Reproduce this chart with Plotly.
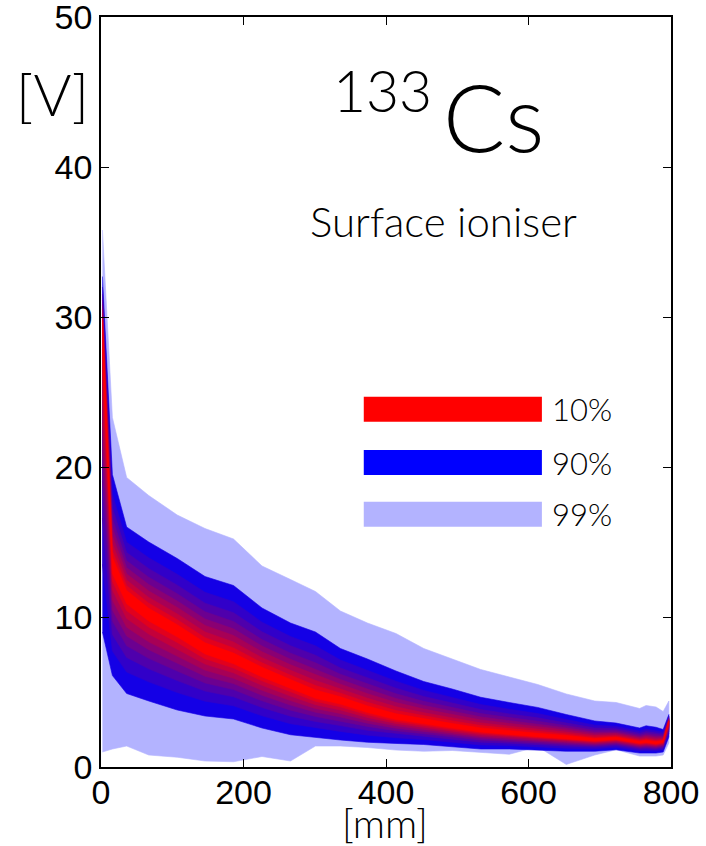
import plotly.graph_objects as go

# ---- data ----
x_mm = [2, 16, 36, 67, 107, 146, 186, 226, 266, 301, 336, 374, 414, 453, 493,
        533, 573, 613, 653, 693, 723, 756, 765, 779, 789, 797]
upper_99 = [35.8, 23.3, 19.3, 18.1, 16.8, 15.9, 15.2, 13.4, 12.5, 11.7, 10.4, 9.6, 8.9,
            7.9, 7.2, 6.5, 6.0, 5.5, 4.87, 4.4, 4.3, 3.9, 4.1, 4.0, 3.7, 4.4]
upper_90 = [32.7, 19.5, 16.0, 15.0, 13.9, 12.7, 12.1, 10.6, 9.6, 9.0, 7.9, 7.2, 6.4,
            5.7, 5.2, 4.65, 4.3, 3.97, 3.5, 3.07, 2.93, 2.6, 2.75, 2.65, 2.5, 3.5]
median = [29.5, 13.5, 11.4, 10.2, 9.1, 7.9, 7.2, 6.3, 5.5, 4.8, 4.4, 3.8, 3.3,
          3.0, 2.7, 2.43, 2.25, 2.1, 1.98, 1.8, 1.9, 1.64, 1.7, 1.6, 1.7, 3.0]
lower_90 = [9.0, 6.1, 4.9, 4.4, 3.8, 3.4, 3.2, 2.6, 2.15, 2.0, 1.8, 1.65, 1.57,
            1.5, 1.35, 1.2, 1.2, 1.15, 1.05, 1.05, 1.15, 0.93, 0.93, 0.93, 1.0, 2.0]
lower_99 = [1.0, 1.2, 1.4, 0.8, 0.65, 0.4, 0.35, 0.7, 0.4, 1.4, 1.4, 1.3, 1.13,
            1.05, 1.1, 1.0, 0.85, 1.35, 0.17, 0.8, 1.15, 0.73, 0.73, 0.73, 0.8, 1.6]

# inner percentile bands (90% ... 10%), relative half-width w.r.t. the 90% band
band_levels = [90, 80, 70, 60, 50, 40, 30, 20, 10]
band_frac = [1.0, 0.78, 0.63, 0.51, 0.41, 0.32, 0.23, 0.15, 0.08]

legend_labels = ["10%", "90%", "99%"]
x_ticks = [0, 200, 400, 600, 800]
y_ticks = [0, 10, 20, 30, 40, 50]

COL_99 = "rgb(179,179,255)"
COL_90 = "rgb(0,0,255)"
COL_10 = "rgb(255,0,0)"


def band_color(level):
    t = (90 - level) / 80.0
    r = 20 + (255 - 20) * t
    b = 230 * (1 - t)
    return "rgb(%d,0,%d)" % (round(r), round(b))


def poly(up, lo, color):
    return go.Scatter(
        x=x_mm + x_mm[::-1], y=list(up) + list(lo)[::-1],
        fill="toself", fillcolor=color, mode="lines",
        line=dict(color=color, width=0.6), hoverinfo="skip", showlegend=False)


fig = go.Figure()
fig.add_trace(poly(upper_99, lower_99, COL_99))
for lev, f in zip(band_levels, band_frac):
    up = [m + (u - m) * f for m, u in zip(median, upper_90)]
    lo = [m - (m - l) * f for m, l in zip(median, lower_90)]
    fig.add_trace(poly(up, lo, band_color(lev)))

TEXT_FONT = "Lato, 'Noto Sans', sans-serif"
TICK_FONT = "'Liberation Sans', Arial, sans-serif"

axis_common = dict(
    showline=True, linecolor="black", linewidth=1.6, mirror="ticks",
    ticks="inside", ticklen=8, tickwidth=1.2, tickcolor="black",
    showgrid=False, zeroline=False, ticklabeloverflow="allow",
    automargin=False,
    tickfont=dict(family=TICK_FONT, size=34, color="black"),
)

fig.update_layout(
    width=706, height=846,
    margin=dict(l=101, r=35, t=17, b=79, autoexpand=False),
    paper_bgcolor="white", plot_bgcolor="white",
    xaxis=dict(range=[0, 800], tickvals=x_ticks, ticklabelstandoff=-6, **axis_common),
    yaxis=dict(range=[0, 50], tickvals=y_ticks, **axis_common),
    showlegend=False,
)

# legend bars (drawn manually like the original)
legend_cols = [COL_10, COL_90, COL_99]
bar_y = [(0.4604, 0.4937), (0.3893, 0.4227), (0.3204, 0.3537)]
for lab, col, (y0, y1) in zip(legend_labels, legend_cols, bar_y):
    fig.add_shape(type="rect", xref="paper", yref="paper",
                  x0=0.461, x1=0.7735, y0=y0, y1=y1,
                  fillcolor=col, line=dict(width=0))
    fig.add_annotation(xref="paper", yref="paper", x=0.787, y=(y0 + y1) / 2,
                       text=lab, showarrow=False, xanchor="left", yanchor="middle",
                       font=dict(family=TEXT_FONT, size=31, color="black", weight=300))

# texts
fig.add_annotation(xref="paper", yref="paper", x=0.689, y=0.868, text="Cs",
                   showarrow=False, xanchor="center", yanchor="middle",
                   font=dict(family=TEXT_FONT, size=92, color="black", weight=300))
fig.add_annotation(xref="paper", yref="paper", x=0.4947, y=0.902, text="133",
                   showarrow=False, xanchor="center", yanchor="middle",
                   font=dict(family=TEXT_FONT, size=57, color="black", weight=300))
fig.add_annotation(xref="paper", yref="paper", x=0.601, y=0.728,
                   text="Surface ioniser", showarrow=False,
                   xanchor="center", yanchor="middle",
                   font=dict(family=TEXT_FONT, size=42, color="black", weight=300))
fig.add_annotation(xref="paper", yref="paper", x=-0.085, y=0.898,
                   text="[V]", showarrow=False, xanchor="center", yanchor="middle",
                   font=dict(family=TEXT_FONT, size=58, color="black", weight=300))
fig.add_annotation(xref="paper", yref="paper", x=0.4983, y=-0.075,
                   text="[mm]", showarrow=False, xanchor="center", yanchor="middle",
                   font=dict(family=TEXT_FONT, size=40, color="black", weight=300))

fig.write_html("out.html", config={"displayModeBar": False},
               post_script="document.body.style.margin='0px';")
